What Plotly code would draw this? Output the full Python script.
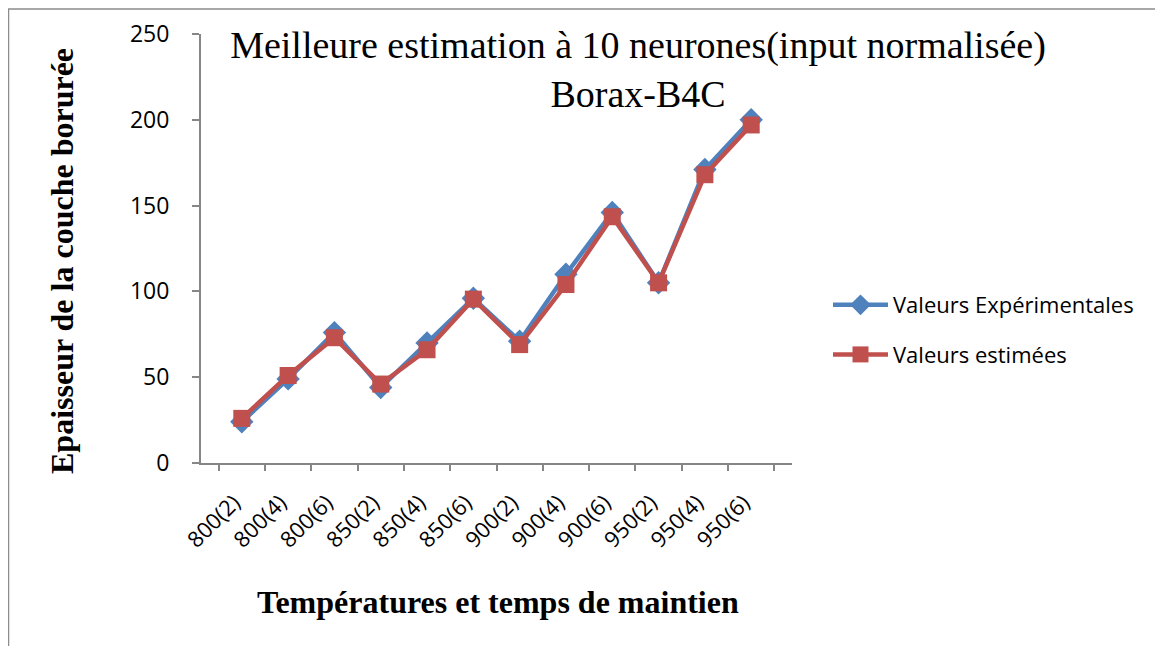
import plotly.graph_objects as go

categories = ["800(2)", "800(4)", "800(6)", "850(2)", "850(4)", "850(6)",
              "900(2)", "900(4)", "900(6)", "950(2)", "950(4)", "950(6)"]
experimental = [24, 49, 76, 44, 70, 96, 71, 110, 146, 105, 171, 200]
estimated = [26, 51, 73, 46, 66, 95.5, 69, 104, 143.5, 105, 168, 197]

BLUE = "#4F81BD"
RED = "#C0504D"
AXIS = "#868686"
W, H = 1163, 646
OFF = 8  # page body margin
L, R, T, B = 201, 792, 34, 463  # plot area in page pixels


def px_x(p):
    return (p - L) / (R - L)


def px_y(p):
    return (B - p) / (B - T)


fig = go.Figure()
fig.add_trace(go.Scatter(
    x=categories, y=experimental, mode="lines+markers",
    name="Valeurs Expérimentales", legendgroup="a",
    line=dict(color=BLUE, width=4.5),
    marker=dict(symbol="diamond", size=18, color=BLUE),
))
fig.add_trace(go.Scatter(
    x=categories, y=estimated, mode="lines+markers",
    name="Valeurs estimées", legendgroup="b",
    line=dict(color=RED, width=4.5),
    marker=dict(symbol="square", size=17, color=RED),
))

fig.update_layout(
    width=W, height=H,
    paper_bgcolor="white", plot_bgcolor="white",
    margin=dict(l=L - OFF, r=W - (R - OFF), t=T - OFF, b=H - (B - OFF),
                autoexpand=False),
    font=dict(family="Open Sans", color="#000000", size=22),
    title=dict(
        text="Meilleure estimation à 10 neurones(input normalisée)<br>Borax-B4C",
        font=dict(family="Liberation Serif", size=38, color="#000000"),
        x=px_x(638), xref="paper", xanchor="center",
        y=1 - 50 / H, yref="container", yanchor="top",
    ),
    xaxis=dict(
        showline=True, linecolor=AXIS, linewidth=2,
        ticks="outside", ticklen=6, tickcolor=AXIS, tickwidth=2,
        tickson="boundaries", tickangle=-45, showgrid=False,
        ticklabelstandoff=16, ticklabelshift=-8,
        tickfont=dict(family="Open Sans", size=22),
    ),
    yaxis=dict(
        range=[0, 250], dtick=50,
        showline=True, linecolor=AXIS, linewidth=2,
        ticks="outside", ticklen=7, tickcolor=AXIS, tickwidth=2,
        ticklabelstandoff=18,
        showgrid=False, zeroline=False,
        tickfont=dict(family="Open Sans", size=23),
    ),
    legend=dict(
        x=px_x(828), xanchor="left", y=px_y(330), yanchor="middle",
        traceorder="grouped", tracegroupgap=18, itemwidth=55,
        font=dict(family="Open Sans", size=22), bgcolor="rgba(0,0,0,0)",
    ),
    annotations=[
        dict(text="<b>Températures et temps de maintien</b>",
             xref="paper", yref="paper", x=px_x(498), y=px_y(602),
             xanchor="center", yanchor="middle", showarrow=False,
             font=dict(family="Liberation Serif", size=32)),
        dict(text="<b>Epaisseur de la couche borurée</b>", textangle=-90,
             xref="paper", yref="paper", x=px_x(62), y=px_y(261),
             xanchor="center", yanchor="middle", showarrow=False,
             font=dict(family="Liberation Serif", size=32)),
    ],
    shapes=[dict(
        type="rect", xref="paper", yref="paper",
        x0=px_x(8.5), x1=px_x(W + 20), y0=px_y(H + 20), y1=px_y(9),
        line=dict(color="#8C8C8C", width=1.5), layer="below",
    )],
)

fig.write_html("out.html")
